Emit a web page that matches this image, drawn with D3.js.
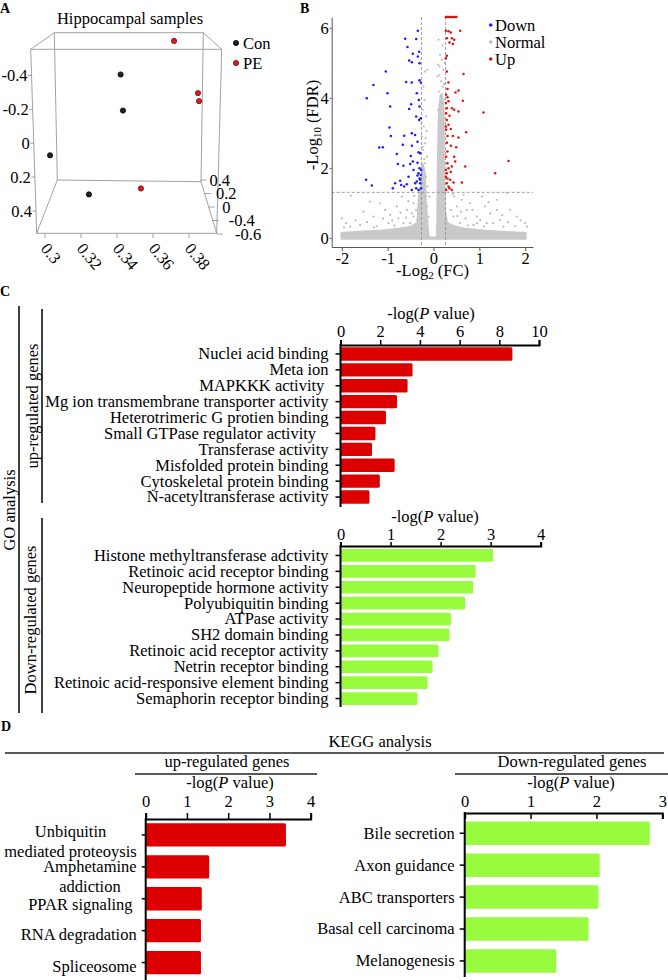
<!DOCTYPE html>
<html><head><meta charset="utf-8">
<script src="https://cdn.jsdelivr.net/npm/d3@7"></script>
<style>
body{margin:0;background:#fff}
svg text{font-family:"Liberation Serif","Times New Roman",serif;}
</style></head><body>
<svg id="c" width="668" height="980" xmlns="http://www.w3.org/2000/svg"></svg>
<script>
// ---------------- DATA ----------------
// Panel A: PCA (projected PC1 / PC2)
const pcaLegend = ["Con", "PE"];
const pcaCon = [[0.342,-0.406],[0.3433,-0.193],[0.3028,0.071],[0.3244,0.302]];
const pcaPE  = [[0.3717,-0.604],[0.385,-0.296],[0.3856,-0.249],[0.3533,0.267]];
const pcaXTicks = [0.3,0.32,0.34,0.36,0.38];
const pcaYTicks = [-0.4,-0.2,0,0.2,0.4];
const pcaZTicks = ["0.4","0.2","0","-0.4","-0.6"];

// Panel B: volcano
const volcanoXTicks = [-2,-1,0,1,2];
const volcanoYTicks = [0,2,4,6];
const fcCut = 0.263, fdrCut = 1.301;
const volcanoDown = [[-0.618,5.69],[-0.342,5.92],[-0.567,5.45],[-0.378,5.68],[-0.313,5.32],[-0.451,5.26],[-0.342,5.18],[-0.531,5.07],[-0.473,5.02],[-0.305,4.99],[-1.04,4.75],[-1.31,4.37],[-0.596,4.45],[-0.473,4.44],[-0.305,4.5],[-0.276,4.44],[-1.455,3.99],[-1.004,4.13],[-0.364,4.13],[-0.32,3.94],[-0.945,3.75],[-0.487,3.82],[-0.531,3.68],[-0.305,3.75],[-0.378,3.47],[-0.313,3.37],[-0.276,3.42],[-0.96,3.15],[-0.931,2.91],[-0.64,2.92],[-0.473,2.99],[-0.4,2.94],[-0.349,2.75],[-1.185,2.58],[-1.105,2.59],[-0.669,2.66],[-0.473,2.63],[-0.327,2.45],[-0.8,2.4],[-0.495,2.34],[-0.291,2.42],[-0.778,2.11],[-0.655,2.06],[-0.509,2.11],[-0.451,2.18],[-0.349,2.15],[-0.305,1.99],[-0.327,1.85],[-0.276,1.8],[-0.305,1.7],[-0.364,1.61],[-1.469,1.66],[-1.345,1.5],[-0.836,1.56],[-0.727,1.63],[-0.705,1.51],[-0.887,1.42],[-0.582,1.53],[-0.4,1.56],[-0.291,1.56],[-0.473,1.37],[-0.378,1.42],[-0.327,1.37],[-0.27,1.42],[-0.291,1.66],[-0.349,1.78],[-0.27,1.94],[-0.436,1.94],[-0.545,1.75],[-0.64,1.47]];
const volcanoUp = [[0.27,5.92],[0.327,5.9],[0.378,5.87],[0.291,5.7],[0.4,5.7],[0.451,5.66],[0.422,5.54],[0.349,5.58],[0.582,5.92],[0.291,5.2],[0.27,5.13],[0.291,4.75],[0.655,4.68],[0.327,4.44],[0.305,4.25],[0.276,4.09],[0.545,4.21],[0.48,4.15],[0.305,4.02],[0.327,3.9],[0.64,3.92],[0.291,3.7],[0.4,3.7],[0.276,3.56],[0.349,3.49],[0.451,3.66],[0.545,3.61],[1.091,3.58],[0.291,3.37],[0.327,3.23],[0.276,3.09],[0.378,3.11],[0.305,2.91],[0.422,2.91],[0.545,2.87],[0.713,3.02],[0.291,2.72],[0.378,2.63],[0.495,2.59],[0.305,2.47],[0.276,2.32],[0.451,2.32],[0.473,2.18],[0.305,2.13],[0.327,1.99],[0.4,2.04],[0.691,2.04],[1.636,2.2],[0.291,1.85],[0.378,1.88],[1.345,1.85],[0.305,1.7],[0.364,1.66],[0.436,1.58],[0.291,1.56],[0.327,1.47],[0.349,1.42],[0.618,1.58],[0.276,1.37],[0.4,1.37],[0.27,1.75],[0.27,1.94],[0.27,3.18],[0.27,3.85],[0.27,6.31],[0.29,6.31],[0.31,6.31],[0.34,6.31],[0.38,6.31],[0.41,6.31],[0.44,6.31],[0.47,6.31],[0.5,6.31]];
const volcanoNormal = [[-1.804,1.21],[-2.0,0.56],[-1.905,0.42],[-1.382,1.04],[-1.164,0.99],[-1.527,0.75],[-1.309,0.61],[-1.055,0.8],[-0.945,0.66],[-0.8,0.9],[-0.764,0.56],[-0.691,1.18],[-0.582,0.8],[-0.509,0.42],[-0.436,0.99],[-0.655,0.42],[-0.982,0.42],[-1.6,0.37],[-1.236,0.34],[-1.818,0.32],[-0.436,0.61],[-0.378,0.8],[-0.349,0.51],[-0.182,1.18],[-0.145,0.9],[-0.109,0.61],[-0.087,1.18],[0.655,1.23],[0.8,0.99],[1.055,1.18],[1.127,0.9],[1.382,1.09],[1.6,1.28],[1.673,0.8],[1.818,0.61],[2.0,0.42],[2.04,0.32],[1.236,0.7],[0.945,0.61],[0.727,0.8],[0.509,0.9],[0.436,0.61],[0.582,0.42],[0.873,0.37],[1.164,0.42],[1.455,0.51],[1.527,0.32],[1.782,0.34],[0.618,1.09],[0.378,0.8],[0.451,1.18],[1.382,0.8],[1.018,0.51],[-1.7,0.5],[-1.45,0.45],[-1.1,0.55],[-0.9,0.5],[-0.72,0.72],[-0.6,0.58],[-0.55,1.05],[-0.47,0.7],[-0.42,1.2],[0.42,1.25],[0.52,0.62],[0.6,0.75],[0.7,0.55],[0.85,0.8],[0.95,0.42],[1.2,1.02],[1.3,0.42],[1.5,0.65],[1.62,0.45],[1.9,0.5],[-1.95,0.3],[-1.3,0.3],[-0.85,0.35],[0.75,0.36],[1.1,0.33],[-0.182,4.75],[-0.131,4.8],[-0.218,4.32],[-0.196,3.94],[-0.233,3.66],[-0.16,3.47],[-0.211,3.18],[-0.255,2.9],[-0.182,2.7],[-0.225,2.51],[-0.145,2.32],[-0.189,2.13],[-0.247,1.94],[-0.16,1.75],[-0.218,1.56],[-0.131,1.47],[-0.24,2.6],[-0.2,2.25],[-0.26,3.3],[-0.17,2.85],[-0.23,2.05],[-0.15,3.05],[0.109,5.66],[0.145,5.23],[0.182,5.09],[0.131,4.9],[0.218,4.8],[0.087,4.61],[0.167,4.47],[0.204,4.32],[0.116,4.18],[0.153,4.04],[0.189,3.85],[0.102,3.66],[0.24,5.0],[0.2,5.5],[0.13,4.65],[0.23,4.4],[0.1,4.95],[0.245,3.95]];
// outline of the densely packed "Normal" genes region
const volcanoNormalDense = [[-2.03,-0.05],[-2.03,0.17],[-1.53,0.21],[-1.16,0.23],[-0.8,0.28],[-0.51,0.34],[-0.37,0.45],[-0.355,0.9],[-0.33,1.3],[-0.28,1.6],[-0.27,2.1],[-0.22,2.15],[-0.17,1.9],[-0.15,1.18],[-0.12,0.6],[-0.1,0.25],[-0.08,0.04],[0.05,0.04],[0.06,0.42],[0.07,1.75],[0.085,3.0],[0.1,3.7],[0.14,4.1],[0.2,4.15],[0.245,3.66],[0.25,1.75],[0.27,0.8],[0.32,0.45],[0.45,0.36],[0.65,0.3],[1.02,0.25],[1.38,0.21],[2.03,0.17],[2.03,-0.05]];

// Panel C: GO analysis
const goUpTerms = ["Nuclei acid binding","Meta ion","MAPKKK activity ","Mg ion transmembrane transporter activity","Heterotrimeric G protien binding","Small GTPase regulator activity   ","Transferase activity","Misfolded protein binding","Cytoskeletal protein binding","N-acetyltransferase activity"];
const goUpValues = [8.66,3.63,3.38,2.85,2.29,1.76,1.59,2.73,1.98,1.46];
const goUpTicks = [0,2,4,6,8,10];
const goDownTerms = ["Histone methyltransferase adctivity","Retinoic acid receptor binding","Neuropeptide hormone activity","Polyubiquitin binding","ATPase activity","SH2 domain binding","Retinoic acid receptor activity","Netrin receptor binding","Retinoic acid-responsive element binding","Semaphorin receptor binding"];
const goDownValues = [3.05,2.7,2.65,2.49,2.21,2.18,1.96,1.84,1.74,1.54];
const goDownTicks = [0,1,2,3,4];

// Panel D: KEGG analysis
const keggUpTerms = [["Unbiquitin","mediated proteoysis"],["Amphetamine","addiction"],["PPAR signaling "],["RNA degradation"],["Spliceosome"]];
const keggUpValues = [3.40,1.54,1.36,1.34,1.34];
const keggUpTicks = [0,1,2,3,4];
const keggDownTerms = ["Bile secretion","Axon guidance","ABC transporters","Basal cell carcinoma","Melanogenesis"];
const keggDownValues = [2.81,2.05,2.03,1.88,1.39];
const keggDownTicks = [0,1,2,3];

// ---------------- DRAW ----------------
const svg = d3.select("#c");
const FS = 16.5;
const SERIF = '"Liberation Serif","Times New Roman",serif';
const SANS = '"Liberation Sans",Arial,sans-serif';
const RED = "#dc0000", GREEN = "#98fb3e";

function txt(g, x, y, s, anchor, size){
  return g.append("text").attr("x",x).attr("y",y).attr("text-anchor",anchor||"start")
    .attr("font-size",size||FS).attr("font-family",SERIF).text(s);
}
function pvalTitle(g, x, y){
  const t = g.append("text").attr("x",x).attr("y",y).attr("text-anchor","middle")
    .attr("font-size",FS).attr("font-family",SERIF).attr("xml:space","preserve").style("white-space","pre");
  t.append("tspan").text("-log(");
  t.append("tspan").attr("font-style","italic").text("P");
  t.append("tspan").text(" value)");
}

// panel letters
[["A",0,13],["B",300,13],["C",0,296],["D",1,731]].forEach(([t,x,y])=>{
  svg.append("text").attr("x",x).attr("y",y).attr("font-family",SANS).attr("font-weight","bold")
    .attr("font-size",14).text(t);
});

// ===== Panel A =====
(function(){
  const g = svg.append("g");
  const xA = d3.scaleLinear().domain([0.3,0.38]).range([45,189]);
  const yA = d3.scaleLinear().domain([-0.4,0.4]).range([75.5,211]);
  const box = {ftl:[30.7,49.3], ftr:[221.7,49.3], fbr:[216.7,233.3], fbl:[36.7,233.3],
               btl:[54.3,32.7], btr:[203.3,32.7], bbr:[201,181.7], bbl:[57.3,180]};
  const edges = [["btl","btr"],["btr","bbr"],["bbr","bbl"],["bbl","btl"],
                 ["ftl","ftr"],["ftr","fbr"],["fbr","fbl"],["fbl","ftl"],
                 ["ftl","btl"],["ftr","btr"],["fbl","bbl"],["fbr","bbr"]];
  const fc = "#8a8a8a";
  edges.forEach(([a,b])=>g.append("line").attr("x1",box[a][0]).attr("y1",box[a][1])
      .attr("x2",box[b][0]).attr("y2",box[b][1]).attr("stroke",fc).attr("stroke-width",0.8));
  txt(g,130,24,"Hippocampal samples","middle");
  const edgeLX = y => box.ftl[0] + (y-box.ftl[1])/(box.fbl[1]-box.ftl[1])*(box.fbl[0]-box.ftl[0]);
  pcaYTicks.forEach(v=>{
    const y = yA(v), ex = edgeLX(y);
    g.append("line").attr("x1",ex-3.5).attr("x2",ex).attr("y1",y).attr("y2",y).attr("stroke",fc).attr("stroke-width",0.8);
    txt(g,ex-4,y,String(v),"end").attr("dy","0.35em");
  });
  pcaXTicks.forEach(v=>{
    const x = xA(v);
    g.append("line").attr("x1",x).attr("x2",x).attr("y1",233.3).attr("y2",238).attr("stroke",fc).attr("stroke-width",0.8);
    txt(g,0,0,String(v),"start").attr("transform",`translate(${x-5},249) rotate(50)`);
  });
  const zS = d3.scalePoint().domain(pcaZTicks).range([180,234]);
  const edgeZX = y => box.bbr[0] + (y-box.bbr[1])/(box.fbr[1]-box.bbr[1])*(box.fbr[0]-box.bbr[0]);
  pcaZTicks.forEach(v=>{
    const y = zS(v), ex = edgeZX(y);
    g.append("line").attr("x1",ex).attr("x2",ex+6).attr("y1",y).attr("y2",y).attr("stroke",fc).attr("stroke-width",0.8);
    txt(g,ex+9+(y-180)*0.17,y,v,"start").attr("dy","0.35em");
  });
  g.selectAll(".con").data(pcaCon).join("circle").attr("cx",d=>xA(d[0])).attr("cy",d=>yA(d[1]))
    .attr("r",2.6).attr("fill","#222").attr("stroke","#000").attr("stroke-width",0.8);
  g.selectAll(".pe").data(pcaPE).join("circle").attr("cx",d=>xA(d[0])).attr("cy",d=>yA(d[1]))
    .attr("r",2.6).attr("fill","#d42222").attr("stroke","#7a0000").attr("stroke-width",0.8);
  const lc = {Con:["#222","#000"], PE:["#d42222","#7a0000"]};
  pcaLegend.forEach((k,i)=>{
    const y = 43 + i*20;
    g.append("circle").attr("cx",236).attr("cy",y).attr("r",2.6).attr("fill",lc[k][0]).attr("stroke",lc[k][1]).attr("stroke-width",0.8);
    txt(g,243,y+6,k,"start");
  });
})();

// ===== Panel B =====
(function(){
  const g = svg.append("g");
  const xV = d3.scaleLinear().domain([-2.22,2.17]).range([331.7,533]);
  const yV = d3.scaleLinear().domain([-0.26,6.31]).range([247,17]);
  const line = d3.line().x(d=>xV(d[0])).y(d=>yV(d[1])).curve(d3.curveLinearClosed);
  g.append("path").datum(volcanoNormalDense).attr("d",line).attr("fill","#c9c9c9");
  g.selectAll(".nm").data(volcanoNormal).join("circle").attr("cx",d=>xV(d[0])).attr("cy",d=>yV(d[1]))
    .attr("r",1.1).attr("fill","#bcbcbc");
  const dash = {stroke:"#8a8a8a","stroke-width":0.8,"stroke-dasharray":"3,2"};
  [-fcCut,fcCut].forEach(v=>{
    const l = g.append("line").attr("x1",xV(v)).attr("x2",xV(v)).attr("y1",yV.range()[1]).attr("y2",yV.range()[0]);
    Object.entries(dash).forEach(([k,val])=>l.attr(k,val));
  });
  const hl = g.append("line").attr("x1",xV.range()[0]).attr("x2",xV.range()[1]).attr("y1",yV(fdrCut)).attr("y2",yV(fdrCut));
  Object.entries(dash).forEach(([k,val])=>hl.attr(k,val));
  g.selectAll(".dn").data(volcanoDown).join("circle").attr("cx",d=>xV(d[0])).attr("cy",d=>yV(d[1]))
    .attr("r",1.25).attr("fill","#1a1aff");
  g.selectAll(".up").data(volcanoUp).join("circle").attr("cx",d=>xV(d[0])).attr("cy",d=>yV(d[1]))
    .attr("r",1.25).attr("fill","#e01010");
  const ax = g.append("g").attr("transform","translate(0,247)")
    .call(d3.axisBottom(xV).tickValues(volcanoXTicks).tickFormat(d=>String(d)).tickSize(4).tickSizeOuter(0).tickPadding(1));
  const ay = g.append("g").attr("transform","translate(331.7,0)")
    .call(d3.axisLeft(yV).tickValues(volcanoYTicks).tickFormat(d=>String(d)).tickSize(2).tickSizeOuter(0).tickPadding(1));
  [ax,ay].forEach(a=>{
    a.attr("font-family",SERIF).attr("font-size",FS);
    a.selectAll("path,line").attr("stroke","#555");
    a.selectAll("text").attr("fill","#000");
  });
  const xt = g.append("text").attr("x",432.5).attr("y",276).attr("text-anchor","middle").attr("font-size",FS).attr("font-family",SERIF);
  xt.append("tspan").text("-Log");
  xt.append("tspan").attr("font-size",11).attr("dy",3).text("2");
  xt.append("tspan").attr("dy",-3).text(" (FC)");
  const yt = g.append("text").attr("transform","translate(318,125) rotate(-90)").attr("text-anchor","middle").attr("font-size",FS).attr("font-family",SERIF);
  yt.append("tspan").text("-Log");
  yt.append("tspan").attr("font-size",11).attr("dy",3).text("10");
  yt.append("tspan").attr("dy",-3).text(" (FDR)");
  [["Down","#1a1aff"],["Normal","#bcbcbc"],["Up","#e01010"]].forEach(([k,c],i)=>{
    const y = 25 + i*17;
    g.append("circle").attr("cx",490.7).attr("cy",y).attr("r",1.8).attr("fill",c);
    txt(g,495,y+5.5,k,"start");
  });
})();

// ===== generic horizontal bar panel =====
function hbar(o){
  const g = svg.append("g");
  const x = d3.scaleLinear().domain(o.domain).range(o.xr);
  const y = d3.scaleBand().domain(d3.range(o.values.length)).range(o.yr).paddingInner(o.pad).paddingOuter(o.pad/2);
  g.selectAll("rect").data(o.values).join("rect")
    .attr("x",x(0)).attr("y",(d,i)=>y(i)).attr("width",d=>x(d)-x(0)).attr("height",y.bandwidth())
    .attr("rx",1.5).attr("fill",o.color);
  const ax = d3.axisTop(x).tickValues(o.ticks).tickFormat(d=>String(d)).tickSizeOuter(0)
    .tickSize(o.tickIn ? -o.tickSize : o.tickSize).tickPadding(o.tickPad);
  const ga = g.append("g").attr("transform",`translate(0,${o.axisY})`).call(ax);
  ga.attr("font-family",SERIF).attr("font-size",FS);
  ga.select(".domain").attr("stroke","#000").attr("stroke-width",2);
  ga.selectAll(".tick line").attr("stroke","#000").attr("stroke-width",1.5);
  ga.selectAll("text").attr("fill","#000");
  g.append("line").attr("x1",x(0)).attr("x2",x(0)).attr("y1",o.axisY-1).attr("y2",o.axisBottom)
    .attr("stroke","#000").attr("stroke-width",2);
  const cy = i => y(i)+y.bandwidth()/2;
  o.values.forEach((d,i)=>{
    g.append("line").attr("x1",x(0)-o.yTick).attr("x2",x(0)).attr("y1",cy(i)).attr("y2",cy(i))
      .attr("stroke","#000").attr("stroke-width",1.5);
  });
  const lx = x(0) - o.yTick - o.labelPad;
  const shift = o.labelShift || [];
  o.terms.forEach((t,i)=>{
    const lines = Array.isArray(t) ? t : [t];
    const y0 = cy(i) + (shift[i]||0);
    if(lines.length===1){
      txt(g,lx,y0,lines[0],"end").attr("dy","0.33em").attr("xml:space","preserve").style("white-space","pre");
    } else {
      const els = lines.map((s,j)=>txt(g,0,y0+j*19.5,s,"middle").attr("dy","0.33em"));
      const w = d3.max(els,e=>e.node().getComputedTextLength());
      els.forEach(e=>e.attr("x",lx - w/2));
    }
  });
  pvalTitle(g,o.titleX,o.titleY);
  return g;
}

// ===== Panel C =====
hbar({terms:goUpTerms, values:goUpValues, domain:[0,10], ticks:goUpTicks, xr:[340.5,539], yr:[346,505],
      pad:0.16, axisY:345, axisBottom:507, tickSize:5, tickPad:3, yTick:5, labelPad:7, color:RED,
      titleX:431, titleY:319});
hbar({terms:goDownTerms, values:goDownValues, domain:[0,4], ticks:goDownTicks, xr:[340.5,540.7], yr:[547.5,706.5],
      pad:0.2, axisY:546, axisBottom:707, tickSize:4, tickPad:2, yTick:5, labelPad:7, color:GREEN,
      titleX:435, titleY:522});
(function(){
  const g = svg.append("g");
  const L = (x,y1,y2)=>g.append("line").attr("x1",x).attr("x2",x).attr("y1",y1).attr("y2",y2).attr("stroke","#000").attr("stroke-width",1.5);
  L(19,306,713); L(42,309,503); L(42,518,713);
  txt(g,0,0,"GO analysis","middle").attr("transform","translate(14.5,510) rotate(-90)");
  txt(g,0,0,"up-regulated genes","middle").attr("transform","translate(38,406) rotate(-90)");
  txt(g,0,0,"Down-regulated genes","middle").attr("transform","translate(35.5,620) rotate(-90)");
})();

// ===== Panel D =====
(function(){
  const g = svg.append("g");
  const H = (x1,x2,y)=>g.append("line").attr("x1",x1).attr("x2",x2).attr("y1",y).attr("y2",y).attr("stroke","#222").attr("stroke-width",1.3);
  txt(g,380,747,"KEGG analysis","middle");
  H(5,664,753);
  txt(g,227,767,"up-regulated genes","middle");
  H(135,317,774);
  txt(g,572,767,"Down-regulated genes","middle");
  H(455,668,774);
})();
hbar({terms:keggUpTerms, values:keggUpValues, domain:[0,4], ticks:keggUpTicks, xr:[145.7,310.7], yr:[819,978.5],
      pad:0.27, axisY:819, axisBottom:980, tickSize:6, tickPad:6, yTick:4, labelPad:5, color:RED,
      titleX:230, titleY:788, labelShift:[-3,0,6,4,4]});
hbar({terms:keggDownTerms, values:keggDownValues, domain:[0,3], ticks:keggDownTicks, xr:[464.7,662.3], yr:[817.3,976.9],
      pad:0.265, axisY:813, axisBottom:977, tickSize:6, tickIn:true, tickPad:6, yTick:5, labelPad:5, color:GREEN,
      titleX:571, titleY:788});
</script></body></html>
